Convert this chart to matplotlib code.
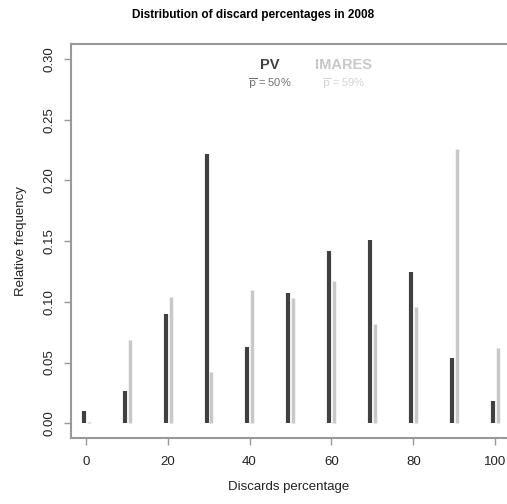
import numpy as np
import matplotlib
matplotlib.use("Agg")
import matplotlib.pyplot as plt

plt.rcParams['font.family'] = ['Liberation Sans', 'DejaVu Sans']

# discard percentage classes
discards = np.array([0, 10, 20, 30, 40, 50, 60, 70, 80, 90, 100])
# relative frequencies
pv = [0.010, 0.027, 0.090, 0.222, 0.063, 0.107, 0.142, 0.151, 0.125, 0.054, 0.018]
imares = [0.001, 0.069, 0.104, 0.042, 0.110, 0.103, 0.117, 0.082, 0.096, 0.226, 0.062]
mean_pv = 50
mean_imares = 59

dark = '#404040'
light = '#c8c8c8'
axis_col = '#999999'

fig = plt.figure(figsize=(5.07, 5.04), dpi=100)
ax = fig.add_axes([0.1394, 0.131, 0.8606, 0.7817])

# histogram-like vertical bars, PV slightly left, IMARES slightly right
ax.vlines(discards - 0.5, 0, pv, color=dark, linewidth=3.0)
ax.vlines(discards + 0.7, 0, imares, color=light, linewidth=2.5)

ax.set_xlim(-3.7, 102.9)
ax.set_ylim(-0.0121, 0.3124)

ax.set_xticks(np.arange(0, 101, 20))
ax.set_yticks(np.arange(0, 0.31, 0.05))
ax.set_yticklabels(['%.2f' % v for v in np.arange(0, 0.31, 0.05)],
                   rotation=90, va='center')

for s in ['left', 'bottom', 'top']:
    ax.spines[s].set_color(axis_col)
    ax.spines[s].set_linewidth(1.5)
ax.spines['right'].set_visible(False)
ax.tick_params(colors=axis_col, labelcolor='#222222', labelsize=9.5,
               length=5, width=1)
ax.tick_params(axis='x', pad=8)
ax.tick_params(axis='y', pad=6)

ax.set_xlabel('Discards percentage', fontsize=9.5, color='#222222', labelpad=9)
ax.set_ylabel('Relative frequency', fontsize=9.5, color='#222222', labelpad=12)
fig.suptitle('Distribution of discard percentages in 2008', fontsize=8.5,
             fontweight='bold', y=0.983)

# legend as text
ax.text(45, 0.295, 'PV', color=dark, fontsize=10.5, fontweight='bold',
        ha='center', va='center')
ax.text(45, 0.280, r'$\overline{\mathrm{p}}$ = %d%%' % mean_pv, color='#707070',
        fontsize=8, ha='center', va='center')
ax.text(63, 0.295, 'IMARES', color=light, fontsize=10.5, fontweight='bold',
        ha='center', va='center')
ax.text(63, 0.280, r'$\overline{\mathrm{p}}$ = %d%%' % mean_imares, color='#d4d4d4',
        fontsize=8, ha='center', va='center')

fig.savefig('out.png', dpi=100)
